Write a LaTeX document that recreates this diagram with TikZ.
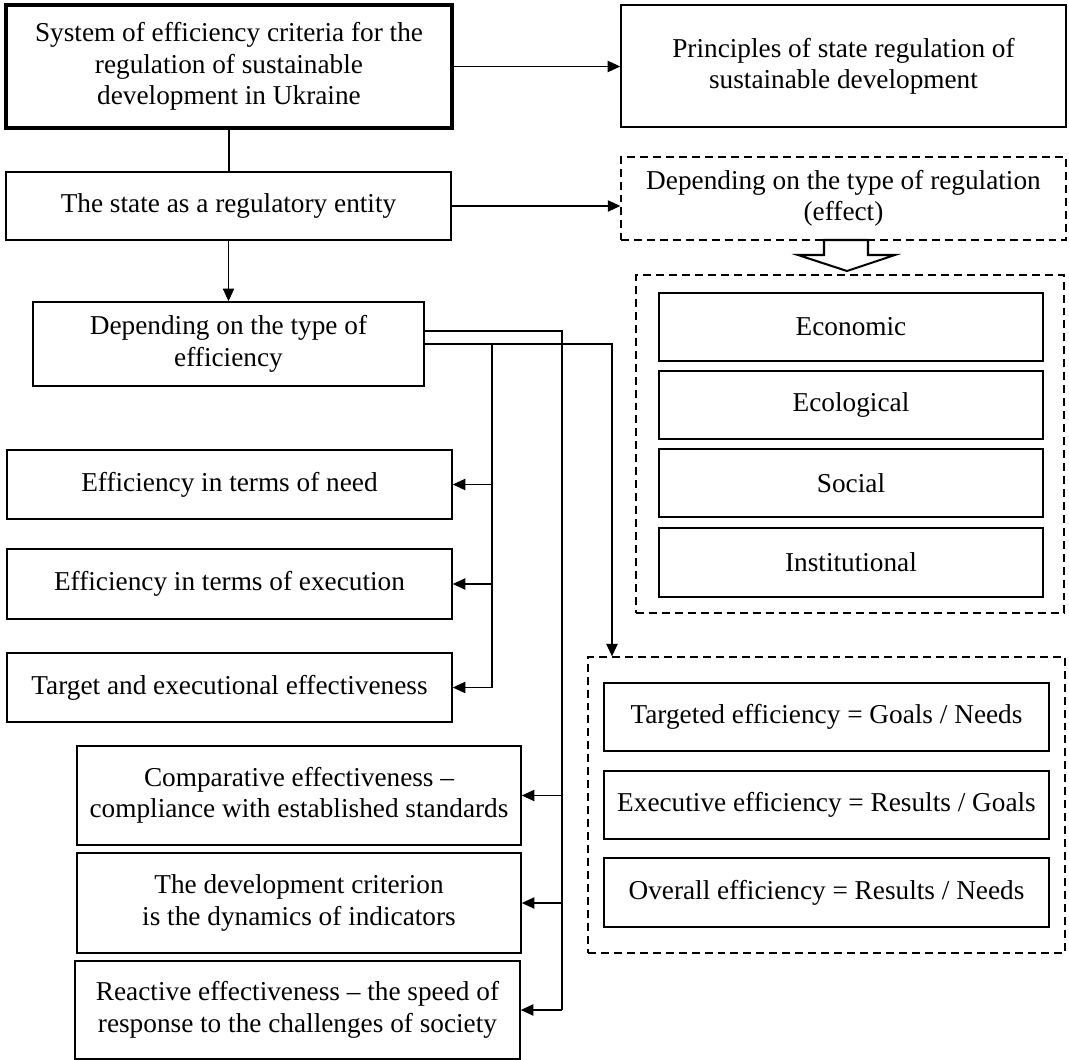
\documentclass[tikz,border=0pt]{standalone}
\usepackage{fontspec}
\setmainfont{Liberation Serif}
\usetikzlibrary{arrows.meta}
\tikzset{
  box/.style={draw, line width=0.75pt, align=center, inner sep=2pt,
    font=\fontsize{12}{13.8}\selectfont},
  group/.style={draw, line width=0.6pt, dash pattern=on 3.5pt off 2.2pt},
  link/.style={line width=0.45pt},
  arr/.style={link, -{Triangle[length=5.5pt,width=5pt]}},
}

\begin{document}
\begin{tikzpicture}[x=0.44pt, y=-0.44pt]
      \useasboundingbox (0,0) rectangle (1069,1060);
      \coordinate (v1) at (492,0);
      \coordinate (v2) at (562,0);
      \coordinate (v3) at (612,0);

      % left column
      \node[box, line width=1.5pt, minimum width=196.2pt, minimum height=54.1pt] (sys) at (229,66.5) {System of efficiency criteria for the\\regulation of sustainable\\development in Ukraine};
      \node[box, minimum width=195.8pt, minimum height=29.9pt] (state) at (228.5,206) {The state as a regulatory entity};
      \node[box, minimum width=172pt, minimum height=37pt] (dep) at (228.5,344) {Depending on the type of\\efficiency};
      \node[box, minimum width=195.8pt, minimum height=30.4pt] (need) at (229.5,484.5) {Efficiency in terms of need};
      \node[box, minimum width=195.8pt, minimum height=30.8pt] (exec) at (229.5,584) {Efficiency in terms of execution};
      \node[box, minimum width=195.8pt, minimum height=30.4pt] (target) at (229.5,687.5) {Target and executional effectiveness};
      \node[box, minimum width=195.4pt, minimum height=43.6pt] (comp) at (299,795.5) {Comparative effectiveness --\\compliance with established standards};
      \node[box, minimum width=195.4pt, minimum height=44pt] (devel) at (299,903) {The development criterion\\is the dynamics of indicators};
      \node[box, minimum width=195.8pt, minimum height=43.1pt] (react) at (297.5,1010) {Reactive effectiveness -- the speed of\\response to the challenges of society};

      % right column
      \node[box, minimum width=195.8pt, minimum height=53.7pt] (princ) at (843.5,66) {Principles of state regulation of\\sustainable development};
      \node[box, group, minimum width=195.8pt, minimum height=36.5pt] (regul) at (843.5,198.5) {Depending on the type of regulation\\(effect)};
      \node[group, minimum width=188.3pt, minimum height=148.7pt] (types) at (850,444) {};
      \node[box, minimum width=169pt, minimum height=29.9pt] (econ) at (851,327) {Economic};
      \node[box, minimum width=169pt, minimum height=29.9pt] (ecol) at (851,405) {Ecological};
      \node[box, minimum width=169pt, minimum height=29.9pt] (soc) at (851,483) {Social};
      \node[box, minimum width=169pt, minimum height=30.4pt] (inst) at (851,562.5) {Institutional};
      \node[group, minimum width=209.9pt, minimum height=130.2pt] (frm) at (826.5,805) {};
      \node[box, minimum width=195.8pt, minimum height=29.9pt] (goals) at (826.5,717) {Targeted efficiency = Goals / Needs};
      \node[box, minimum width=195.8pt, minimum height=29.9pt] (results) at (826.5,805) {Executive efficiency = Results / Goals};
      \node[box, minimum width=195.8pt, minimum height=30.4pt] (overall) at (826.5,892.5) {Overall efficiency = Results / Needs};

      % connectors
      \draw[arr] (sys.east) -- (sys.east -| princ.west);
      \draw[link] (sys.south) -- (sys.south |- state.north);
      \draw[arr] (state.east) -- (state.east -| regul.west);
      \draw[arr] (state.south) -- (state.south |- dep.north);
      \draw[link] (dep.east) -| (target.east -| v1);
      \foreach \n in {need,exec,target}
        \draw[arr] (\n.east -| v1) -- (\n.east);
      \draw[link, line width=0.9pt] ([yshift=5.7pt]dep.east) -| (react.east -| v2);
      \foreach \n in {comp,devel,react}
        \draw[arr] (\n.east -| v2) -- (\n.east);
      \draw[arr] (dep.east) -| (v3 |- frm.north);

      % block arrow
      \draw[line width=0.9pt, fill=white] (824,240) -- (824,255) -- (798,255) -- (847,271) -- (895,255) -- (868,255) -- (868,240) -- cycle;
    \end{tikzpicture}
\end{document}
